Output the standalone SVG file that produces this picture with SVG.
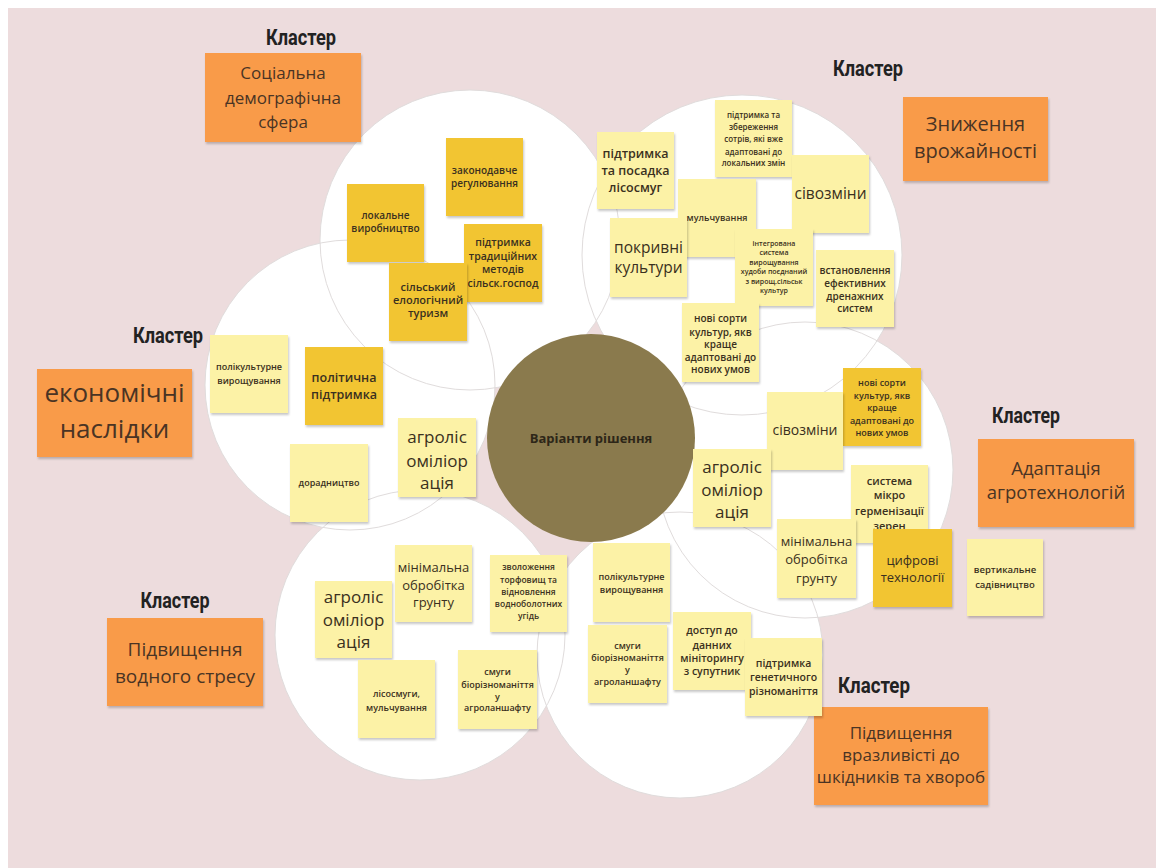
<svg xmlns="http://www.w3.org/2000/svg" width="1156" height="868" viewBox="0 0 1156 868">
<defs>
<filter id="sh" x="-10%" y="-10%" width="130%" height="130%"><feDropShadow dx="1" dy="2" stdDeviation="1.2" flood-color="#000" flood-opacity="0.22"/></filter>
<style>
.lt{fill:#FCF2A6}
.gd{fill:#F2C530}
.or{fill:#F99B48}
.n{font-family:"Open Sans","Noto Sans",sans-serif;fill:#3a3020;text-anchor:middle;font-weight:600}
.r{font-weight:400}
.ot{font-family:"Open Sans","Noto Sans",sans-serif;fill:#4a3424;text-anchor:middle}
.kl{font-family:"Roboto","DejaVu Sans",sans-serif;font-weight:700;font-size:22px;fill:#222;text-anchor:middle}
.ring{fill:none;stroke:#e0dcdc;stroke-width:1}
</style>
</defs>
<rect x="0" y="0" width="1156" height="868" fill="#fff"/>
<rect x="8" y="8" width="1148" height="860" fill="#EDDCDD"/>

<g id="petals">
<circle cx="470" cy="240" r="150" fill="#fff"/>
<circle cx="742" cy="255" r="160" fill="#fff"/>
<circle cx="350" cy="385" r="145" fill="#fff"/>
<circle cx="805" cy="470" r="148" fill="#fff"/>
<circle cx="420" cy="635" r="145" fill="#fff"/>
<circle cx="680" cy="655" r="143" fill="#fff"/>
<circle class="ring" cx="470" cy="240" r="150"/>
<circle class="ring" cx="742" cy="255" r="160"/>
<circle class="ring" cx="350" cy="385" r="145"/>
<circle class="ring" cx="805" cy="470" r="148"/>
<circle class="ring" cx="420" cy="635" r="145"/>
<circle class="ring" cx="680" cy="655" r="143"/>
</g>

<g id="connectors"></g>

<g id="center">
<circle cx="591" cy="438" r="104" fill="#8A7A4D"/>
<text x="591" y="443" font-family="'Open Sans','Noto Sans',sans-serif" font-weight="700" font-size="13" fill="#2d2618" text-anchor="middle">Варіанти рішення</text>
</g>

<!-- Cluster boxes -->
<g id="cl-social">
<text class="kl" x="301" y="45" textLength="70" lengthAdjust="spacingAndGlyphs">Кластер</text>
<rect class="or" x="205" y="53" width="156" height="89" filter="url(#sh)"/>
<text class="ot" font-size="17"><tspan x="283" y="79">Соціальна</tspan><tspan x="283" y="104">демографічна</tspan><tspan x="283" y="128">сфера</tspan></text>
</g>
<g id="cl-yield">
<text class="kl" x="868" y="76" textLength="70" lengthAdjust="spacingAndGlyphs">Кластер</text>
<rect class="or" x="903" y="97" width="145" height="84" filter="url(#sh)"/>
<text class="ot" font-size="20"><tspan x="975.5" y="131">Зниження</tspan><tspan x="975.5" y="158">врожайності</tspan></text>
</g>
<g id="cl-econ">
<text class="kl" x="168" y="343" textLength="70" lengthAdjust="spacingAndGlyphs">Кластер</text>
<rect class="or" x="37" y="369" width="155" height="88" filter="url(#sh)"/>
<text class="ot" font-size="26"><tspan x="114.5" y="402">економічні</tspan><tspan x="114.5" y="438">наслідки</tspan></text>
</g>
<g id="cl-adapt">
<text class="kl" x="1026" y="423" textLength="68" lengthAdjust="spacingAndGlyphs">Кластер</text>
<rect class="or" x="978" y="439" width="156" height="88" filter="url(#sh)"/>
<text class="ot" font-size="18.5"><tspan x="1056" y="475">Адаптація</tspan><tspan x="1056" y="499">агротехнологій</tspan></text>
</g>
<g id="cl-water">
<text class="kl" x="175" y="608" textLength="69" lengthAdjust="spacingAndGlyphs">Кластер</text>
<rect class="or" x="107" y="618" width="156" height="88" filter="url(#sh)"/>
<text class="ot" font-size="19"><tspan x="185" y="656">Підвищення</tspan><tspan x="185" y="683">водного стресу</tspan></text>
</g>
<g id="cl-pests">
<text class="kl" x="874" y="693" textLength="72" lengthAdjust="spacingAndGlyphs">Кластер</text>
<rect class="or" x="814" y="707" width="174" height="98" filter="url(#sh)"/>
<text class="ot" font-size="17"><tspan x="901" y="739">Підвищення</tspan><tspan x="901" y="761">вразливісті до</tspan><tspan x="901" y="783">шкідників та хвороб</tspan></text>
</g>

<!-- Top petal notes -->
<g id="n-zakon"><rect class="gd" x="446" y="138" width="77" height="78" filter="url(#sh)"/><text class="n" font-size="10"><tspan x="484.5" y="173.5">законодавче</tspan><tspan x="484.5" y="186.5">регулювання</tspan></text></g>
<g id="n-lokal"><rect class="gd" x="347" y="184" width="77" height="78" filter="url(#sh)"/><text class="n" font-size="10"><tspan x="385.5" y="218.5">локальне</tspan><tspan x="385.5" y="231.5">виробництво</tspan></text></g>
<g id="n-tradyts"><rect class="gd" x="464" y="224" width="78" height="78" filter="url(#sh)"/><text class="n" font-size="10.5"><tspan x="503" y="246">підтримка</tspan><tspan x="503" y="259.5">традиційних</tspan><tspan x="503" y="273">методів</tspan><tspan x="503" y="286.5">сільск.господ</tspan></text></g>
<g id="n-turyzm"><rect class="gd" x="389" y="263" width="78" height="78" filter="url(#sh)"/><text class="n" font-size="11"><tspan x="428" y="291">сільський</tspan><tspan x="428" y="304">елологічний</tspan><tspan x="428" y="317">туризм</tspan></text></g>

<!-- Top-right petal notes -->
<g id="n-lisosmug"><rect class="lt" x="597" y="132" width="77" height="77" filter="url(#sh)"/><text class="n" font-size="12.5"><tspan x="635.5" y="158">підтримка</tspan><tspan x="635.5" y="175">та посадка</tspan><tspan x="635.5" y="192">лісосмуг</tspan></text></g>
<g id="n-sortiv"><rect class="lt" x="715" y="100" width="77" height="77" filter="url(#sh)"/><text class="n" font-size="8"><tspan x="753.5" y="118">підтримка та</tspan><tspan x="753.5" y="130">збереження</tspan><tspan x="753.5" y="142">сотрів, які вже</tspan><tspan x="753.5" y="155">адаптовані до</tspan><tspan x="753.5" y="166">локальних змін</tspan></text></g>
<g id="n-sivozm1"><rect class="lt" x="792" y="155" width="77" height="78" filter="url(#sh)"/><text class="n r" font-size="15.5" x="830.5" y="198.5">сівозміни</text></g>
<g id="n-mulch"><rect class="lt" x="678" y="179" width="78" height="78" filter="url(#sh)"/><text class="n" font-size="9" x="717" y="221">мульчування</text></g>
<g id="n-pokryvni"><rect class="lt" x="610" y="218" width="77" height="79" filter="url(#sh)"/><text class="n r" font-size="15.5"><tspan x="648.5" y="253">покривні</tspan><tspan x="648.5" y="273">культури</tspan></text></g>
<g id="n-integr"><rect class="lt" x="735" y="229" width="78" height="77" filter="url(#sh)"/><text class="n" font-size="7" font-weight="700"><tspan x="774" y="245.5">інтегрована</tspan><tspan x="774" y="254.5">система</tspan><tspan x="774" y="264.5">вирощування</tspan><tspan x="774" y="273.5">худоби  поєднаний</tspan><tspan x="774" y="283.5">з вирощ.сільськ</tspan><tspan x="774" y="292.5">культур</tspan></text></g>
<g id="n-drenazh"><rect class="lt" x="816" y="250" width="78" height="77" filter="url(#sh)"/><text class="n" font-size="10"><tspan x="855" y="274">встановлення</tspan><tspan x="855" y="287">ефективних</tspan><tspan x="855" y="300">дренажних</tspan><tspan x="855" y="312">систем</tspan></text></g>
<g id="n-sorty1"><rect class="lt" x="682" y="303" width="77" height="79" filter="url(#sh)"/><text class="n" font-size="10"><tspan x="720.5" y="322">нові сорти</tspan><tspan x="720.5" y="336">культур, якв</tspan><tspan x="720.5" y="348">краще</tspan><tspan x="720.5" y="361">адаптовані до</tspan><tspan x="720.5" y="373">нових умов</tspan></text></g>

<!-- Right petal notes -->
<g id="n-sorty2"><rect class="gd" x="843" y="368" width="78" height="78" filter="url(#sh)"/><text class="n" font-size="9"><tspan x="882" y="385.5">нові сорти</tspan><tspan x="882" y="398.5">культур, якв</tspan><tspan x="882" y="410.5">краще</tspan><tspan x="882" y="423.5">адаптовані до</tspan><tspan x="882" y="435.5">нових умов</tspan></text></g>
<g id="n-sivozm2"><rect class="lt" x="767" y="392" width="76" height="78" filter="url(#sh)"/><text class="n r" font-size="14" x="805" y="435">сівозміни</text></g>
<g id="n-agro1"><rect class="lt" x="693" y="449" width="78" height="78" filter="url(#sh)"/><text class="n r" font-size="17"><tspan x="732" y="473">агроліс</tspan><tspan x="732" y="496">оміліор</tspan><tspan x="732" y="518">ація</tspan></text></g>
<g id="n-mikro"><rect class="lt" x="851" y="465" width="77" height="78" filter="url(#sh)"/><text class="n" font-size="11" font-weight="500"><tspan x="889.5" y="485">система</tspan><tspan x="889.5" y="499">мікро</tspan><tspan x="889.5" y="515">герменізації</tspan><tspan x="889.5" y="530">зерен</tspan></text></g>
<g id="n-minobr1"><rect class="lt" x="777" y="519" width="79" height="79" filter="url(#sh)"/><text class="n r" font-size="13"><tspan x="816.5" y="546">мінімальна</tspan><tspan x="816.5" y="564">обробітка</tspan><tspan x="816.5" y="583">грунту</tspan></text></g>
<g id="n-tsyfr"><rect class="gd" x="873" y="529" width="79" height="78" filter="url(#sh)"/><text class="n r" font-size="13"><tspan x="912.5" y="565">цифрові</tspan><tspan x="912.5" y="582">технології</tspan></text></g>
<g id="n-vert"><rect class="lt" x="967" y="539" width="76" height="77" filter="url(#sh)"/><text class="n" font-size="9.5"><tspan x="1005" y="572.5">вертикальне</tspan><tspan x="1005" y="587.5">садівництво</tspan></text></g>

<!-- Left petal notes -->
<g id="n-polik1"><rect class="lt" x="210" y="335" width="78" height="78" filter="url(#sh)"/><text class="n" font-size="9"><tspan x="249" y="370">полікультурне</tspan><tspan x="249" y="384">вирощування</tspan></text></g>
<g id="n-polit"><rect class="gd" x="305" y="347" width="78" height="78" filter="url(#sh)"/><text class="n" font-size="12.5" font-weight="500"><tspan x="344" y="381.5">політична</tspan><tspan x="344" y="398.5">підтримка</tspan></text></g>
<g id="n-dorad"><rect class="lt" x="290" y="444" width="78" height="78" filter="url(#sh)"/><text class="n" font-size="9" x="329" y="486">дорадництво</text></g>
<g id="n-agro2"><rect class="lt" x="398" y="418" width="78" height="79" filter="url(#sh)"/><text class="n r" font-size="17"><tspan x="437" y="443">агроліс</tspan><tspan x="437" y="467">оміліор</tspan><tspan x="437" y="489">ація</tspan></text></g>

<!-- Bottom-left petal notes -->
<g id="n-agro3"><rect class="lt" x="315" y="581" width="77" height="77" filter="url(#sh)"/><text class="n r" font-size="17"><tspan x="353.5" y="603">агроліс</tspan><tspan x="353.5" y="626">оміліор</tspan><tspan x="353.5" y="648">ація</tspan></text></g>
<g id="n-minobr2"><rect class="lt" x="395" y="545" width="77" height="77" filter="url(#sh)"/><text class="n r" font-size="13"><tspan x="433.5" y="572">мінімальна</tspan><tspan x="433.5" y="590">обробітка</tspan><tspan x="433.5" y="607">грунту</tspan></text></g>
<g id="n-zvol"><rect class="lt" x="490" y="555" width="77" height="77" filter="url(#sh)"/><text class="n" font-size="8.5" font-weight="700"><tspan x="528.5" y="570">зволоження</tspan><tspan x="528.5" y="583">торфовищ та</tspan><tspan x="528.5" y="595">відновлення</tspan><tspan x="528.5" y="607">водноболотних</tspan><tspan x="528.5" y="619">угідь</tspan></text></g>
<g id="n-lisomul"><rect class="lt" x="358" y="660" width="77" height="78" filter="url(#sh)"/><text class="n" font-size="9"><tspan x="396.5" y="696.5">лісосмуги,</tspan><tspan x="396.5" y="710.5">мульчування</tspan></text></g>
<g id="n-smugy1"><rect class="lt" x="458" y="650" width="79" height="79" filter="url(#sh)"/><text class="n" font-size="9"><tspan x="497.5" y="675">смуги</tspan><tspan x="497.5" y="688">біорізноманіття</tspan><tspan x="497.5" y="700">у</tspan><tspan x="497.5" y="711">агроланшафту</tspan></text></g>

<!-- Bottom-right petal notes -->
<g id="n-polik2"><rect class="lt" x="593" y="543" width="77" height="79" filter="url(#sh)"/><text class="n" font-size="9"><tspan x="631.5" y="580">полікультурне</tspan><tspan x="631.5" y="593">вирощування</tspan></text></g>
<g id="n-smugy2"><rect class="lt" x="588" y="625" width="79" height="78" filter="url(#sh)"/><text class="n" font-size="9"><tspan x="627.5" y="649">смуги</tspan><tspan x="627.5" y="661">біорізноманіття</tspan><tspan x="627.5" y="673">у</tspan><tspan x="627.5" y="685">агроланшафту</tspan></text></g>
<g id="n-dostup"><rect class="lt" x="673" y="612" width="78" height="78" filter="url(#sh)"/><text class="n" font-size="10.5"><tspan x="712" y="634">доступ до</tspan><tspan x="712" y="649">данних</tspan><tspan x="712" y="662">мініторингу</tspan><tspan x="712" y="675">з супутник</tspan></text></g>
<g id="n-genet"><rect class="lt" x="745" y="638" width="77" height="78" filter="url(#sh)"/><text class="n" font-size="10.5"><tspan x="783.5" y="667">підтримка</tspan><tspan x="783.5" y="681">генетичного</tspan><tspan x="783.5" y="695">різноманіття</tspan></text></g>
</svg>
